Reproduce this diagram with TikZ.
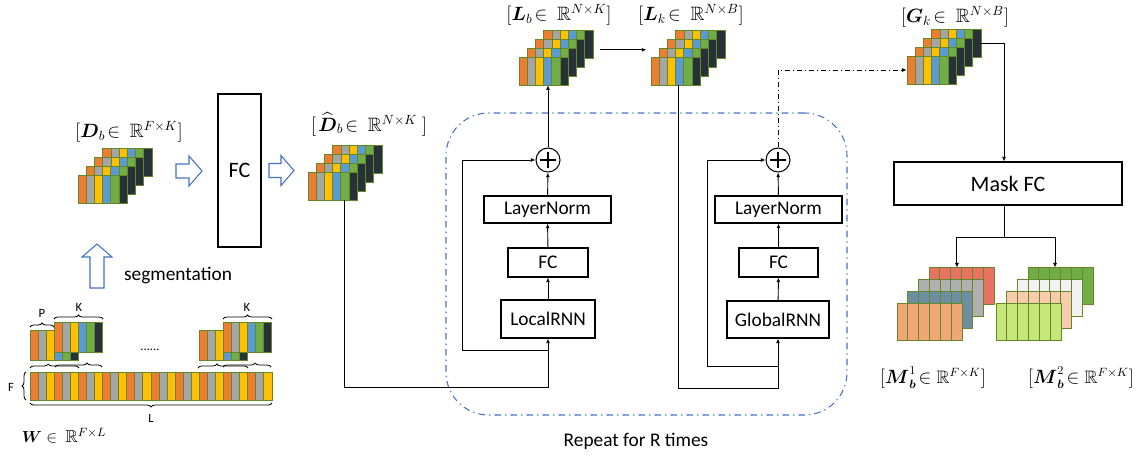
\documentclass[tikz,border=0pt]{standalone}
\usepackage{amsmath,amssymb}
\usepackage{fontspec}
\setmainfont{Carlito}
\usetikzlibrary{arrows.meta,fit,decorations.pathreplacing}

\definecolor{cOr}{RGB}{237,125,49}
\definecolor{cGy}{RGB}{165,165,165}
\definecolor{cYe}{RGB}{255,192,0}
\definecolor{cBl}{RGB}{91,155,213}
\definecolor{cGn}{RGB}{112,173,71}
\definecolor{cDk}{RGB}{38,50,56}
\definecolor{cEdge}{RGB}{100,135,40}
\definecolor{cBlue}{RGB}{68,114,196}
% mask colours
\definecolor{mRed}{RGB}{233,115,98}
\definecolor{mGry}{RGB}{176,176,176}
\definecolor{mSte}{RGB}{108,142,160}
\definecolor{mPea}{RGB}{241,166,118}
\definecolor{mGrn}{RGB}{112,173,71}
\definecolor{mWht}{RGB}{242,242,242}
\definecolor{mSal}{RGB}{248,203,173}
\definecolor{mLim}{RGB}{197,230,120}

\tikzset{
  cell/.style={draw=cEdge, line width=0.7pt},
  blk/.style={draw, line width=0.8pt, inner sep=0pt, font=\fontsize{14.5}{17}\selectfont},
  line/.style={line width=0.7pt},
  arr/.style={line, -{Latex[length=3.5pt,width=3pt]}},
  harrow/.style={draw=cBlue, fill=white, line width=0.8pt},
  sumc/.style={circle, draw, line width=0.8pt, minimum size=18pt, inner sep=0pt,
    path picture={
      \draw[line width=0.8pt] ([yshift=-3pt]path picture bounding box.north) -- ([yshift=3pt]path picture bounding box.south);
      \draw[line width=0.8pt] ([xshift=3pt]path picture bounding box.west) -- ([xshift=-3pt]path picture bounding box.east);}},
  lbl/.style={inner sep=0pt, font=\fontsize{14.5}{17}\selectfont},
  mlbl/.style={inner sep=0pt, font=\fontsize{13.5}{16}\selectfont},
  txt/.style={inner sep=0pt, font=\fontsize{14.5}{17}\selectfont},
  tiny/.style={inner sep=0pt, font=\fontsize{9.5}{11}\selectfont},
  repeatbox/.style={draw=cBlue, line width=0.8pt, rounded corners=32pt,
    dash pattern=on 5pt off 3pt on 1pt off 3pt},
  dashdot/.style={dash pattern=on 4pt off 2pt on 1pt off 2pt},
  brc/.style={line width=0.6pt, decorate, decoration={brace, amplitude=3pt}},
}

% one layer of coloured columns: x, y (top left), column width, height, colours
\newcommand{\colrow}[5]{%
  \foreach \c [count=\i from 0] in {#5}
    \draw[cell, fill=\c] ({#1+\i*#3},{#2}) rectangle ++(#3,#4);}

% four layers, front layer top left at (#2,#3)
\newcommand{\featstack}[3]{%
  \foreach \k in {3,2,1,0} {%
    \colrow{#2+\k*8.3}{#3-\k*8.8}{8.2}{28}{cOr,cGy,cYe,cBl,cGn,cDk}}
  \node[fit={(#2,#3) ({#2+49.2},{#3+28})}, inner sep=0pt] (#1f) {};
  \node[fit={({#2+24.9},{#3-26.4}) ({#2+74.1},{#3+1.6})}, inner sep=0pt] (#1b) {};
  \node[fit=(#1f)(#1b), inner sep=0pt] (#1) {};}

% mask layers, colours from back to front
\newcommand{\maskstack}[4]{%
  \foreach \mc [count=\k from 0] in {#4} {%
    \colrow{#2+(3-\k)*10.7}{#3-(3-\k)*11.7}{10.83}{37}{\mc,\mc,\mc,\mc,\mc,\mc}}
  \node[fit={(#2,#3) ({#2+65},{#3+37})}, inner sep=0pt] (#1f) {};
  \node[fit={({#2+32.1},{#3-35.1}) ({#2+97.1},{#3+1.9})}, inner sep=0pt] (#1b) {};}

% block arrow: tail point, rotation, length
\newcommand{\hollowarrow}[3]{%
  \draw[harrow, shift={#1}, rotate=#2] (0,-7) -- ({#3-13},-7) -- ({#3-13},-15) -- (#3,0)
    -- ({#3-13},15) -- ({#3-13},7) -- (0,7) -- cycle;}

\begin{document}
\begin{tikzpicture}[x=0.75pt,y=-0.75pt]
\useasboundingbox (0,0) rectangle (1138,457);

%Shape: Repeat region
\node[repeatbox, fit={(446,113) (847,415)}, inner sep=0pt] (rep) {};
\node[txt] (reptxt) at (636,441) {Repeat for R times};

%Segmentation of W
\foreach \j in {0,...,9} {\colrow{30+\j*24.2}{372}{8.07}{28}{cOr,cGy,cYe}}
\node[fit={(30,372) (272,400)}, inner sep=0pt] (wbar) {};
\colrow{30}{330}{8}{30}{cOr,cGy,cYe,cBl,cGn,cDk}
\colrow{54}{322}{8.15}{30}{cOr,cGy,cYe,cBl,cGn,cDk}
\colrow{199}{330}{8}{30}{cOr,cGy,cYe,cBl,cGn,cDk}
\colrow{223}{322}{8.15}{30}{cOr,cGy,cYe,cBl,cGn,cDk}
% braces
\draw[brc] (30,327) -- (54,327);
\draw[brc] (54,319) -- (103,319);
\draw[brc] (223,319) -- (272,319);
\draw[brc, decoration={aspect=0.37}] (30,368) -- (79,368);
\draw[brc, decoration={aspect=0.68}] (55,367) -- (102,367);
\draw[brc, decoration={aspect=0.38}] (198,368) -- (248,368);
\draw[brc, decoration={aspect=0.67}] (223,367) -- (271,367);
\draw[brc] (26,400) -- (26,372);
\draw[brc] (272,403) -- (30,403);
% Text Node
\node[tiny] (ptxt) at (42,313) {P};
\node[tiny] (k1txt) at (79,307) {K};
\node[tiny] (k2txt) at (247,307) {K};
\node[tiny] (ftxt) at (11,387) {F};
\node[tiny] (ltxt) at (151,418) {L};
\node[tiny] (dots) at (150,350) {......};
\node[inner sep=0pt, font=\fontsize{13}{15}\selectfont] (wlbl) at (64,436) {$\boldsymbol{W}\in\ \mathbb{R}^{F\times L}$};

\hollowarrow{(97,288)}{90}{44}
\node[txt] (segtxt) at (178,275) {segmentation};

%Feature stacks
\featstack{Db}{78}{175}
\node[lbl] (Dblbl) at (129,132) {$[\boldsymbol{D}_b\!\in\ \mathbb{R}^{F\times K}]$};
\hollowarrow{(176,171)}{0}{26}
\node[blk, minimum width=32.25pt, minimum height=114.75pt, font=\fontsize{16.5}{19}\selectfont] (fcbig) at (239.5,170.5) {FC};
\hollowarrow{(269,170.5)}{0}{25}
\featstack{Dh}{308}{172}
\node[lbl] (Dhlbl) at (369,124) {$[\mkern2mu\widehat{\boldsymbol{D}}_b\!\in\ \mathbb{R}^{N\times K}\ ]$};
\featstack{Lb}{519}{57}
\node[lbl] (Lblbl) at (559,15) {$[\boldsymbol{L}_b\!\in\ \mathbb{R}^{N\times K}]$};
\featstack{Lk}{651}{57}
\node[lbl] (Lklbl) at (691,15) {$[\boldsymbol{L}_k\!\in\ \mathbb{R}^{N\times B}]$};
\featstack{Gk}{907}{56}
\node[lbl] (Gklbl) at (955,17) {$[\boldsymbol{G}_k\!\in\ \mathbb{R}^{N\times B}]$};

%Local block
\node[sumc] (plusL) at (548,160) {};
\node[blk, minimum width=95.25pt, minimum height=20.25pt] (lnL) at (547.5,209.5) {LayerNorm};
\node[blk, minimum width=60pt, minimum height=21.75pt] (fcL) at (548,262.5) {FC};
\node[blk, minimum width=70.5pt, minimum height=28.5pt] (rnnL) at (548,319) {LocalRNN};
%Global block
\node[sumc] (plusR) at (778,160) {};
\node[blk, minimum width=95.25pt, minimum height=20.25pt] (lnR) at (778.5,209.5) {LayerNorm};
\node[blk, minimum width=59.25pt, minimum height=21.75pt] (fcR) at (778.5,262.5) {FC};
\node[blk, minimum width=76.5pt, minimum height=27.75pt] (rnnR) at (778,319.5) {GlobalRNN};

%Mask
\node[blk, minimum width=171pt, minimum height=32.25pt, font=\fontsize{16.5}{19}\selectfont] (mask) at (1008,183.5) {Mask FC};
\maskstack{M1}{897}{303}{mRed,mGry,mSte,mPea}
\maskstack{M2}{996}{303}{mGrn,mWht,mSal,mLim}
\node[mlbl] (M1lbl) at (933,378) {$[\boldsymbol{M}_{\boldsymbol{b}}^{1}\!\in\mathbb{R}^{F\times K}]$};
\node[mlbl] (M2lbl) at (1081,378) {$[\boldsymbol{M}_{\boldsymbol{b}}^{2}\!\in\mathbb{R}^{F\times K}]$};

%Straight Lines
\draw[arr] ([xshift=9pt]Dhf.south) |- ([yshift=-36.75pt]rnnL.south) -- (rnnL.south);
\draw[arr] ([yshift=-9pt]rnnL.south) -| ([xshift=-54.75pt]plusL.west) -- (plusL.west);
\draw[arr] (rnnL) -- (fcL);
\draw[arr] (fcL) -- (lnL);
\draw[arr] (lnL) -- (plusL);
\draw[arr] (plusL.north) -- (plusL.north |- Lbf.south);
\draw[arr, shorten <=5pt, shorten >=3pt] ([yshift=6pt]Lb.east) -- ([yshift=6pt]Lb.east -| Lk.west);
\draw[arr] ([xshift=2pt]Lkf.south) |- ([yshift=-37.5pt]rnnR.south) -- (rnnR.south);
\draw[arr] ([yshift=-21pt]rnnR.south) -| ([xshift=-43.5pt]plusR.west) -- (plusR.west);
\draw[arr] (rnnR) -- (fcR);
\draw[arr] (fcR) -- (lnR);
\draw[arr] (lnR) -- (plusR);
\draw[arr, dashdot] (plusR.north) |- (Gkf.west);
\draw[arr] (Gkb.east) -| ([xshift=-3pt]mask.north);
\coordinate (msplit) at ([xshift=-3pt,yshift=-24pt]mask.south);
\draw[line] ([xshift=-3pt]mask.south) -- (msplit);
\draw[arr] (msplit) -| ([xshift=-3.5pt]M1b.north);
\draw[arr] (msplit) -| ([xshift=-4.2pt]M2b.north);
\end{tikzpicture}
\end{document}
